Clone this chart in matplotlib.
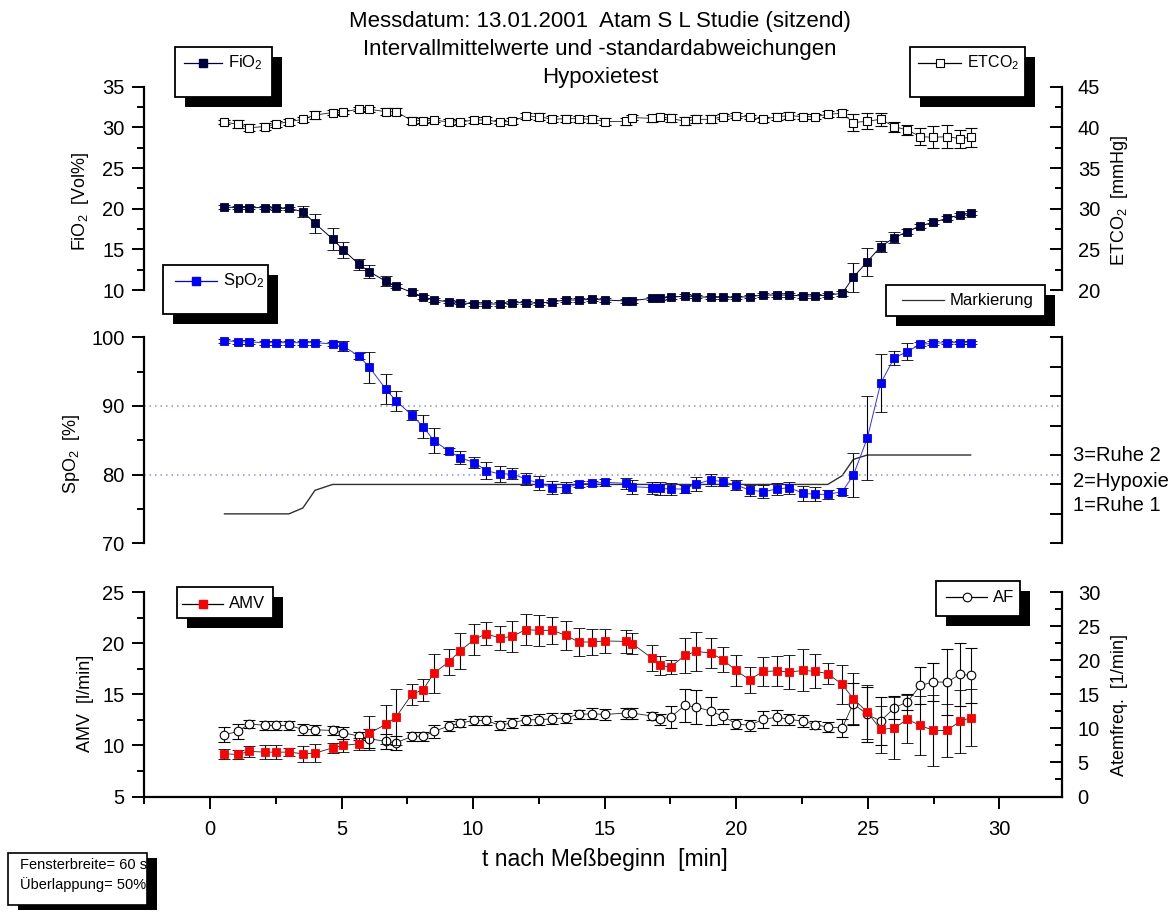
import matplotlib
matplotlib.use('Agg')
import matplotlib.pyplot as plt
from matplotlib.patches import Rectangle
from matplotlib.ticker import MultipleLocator, NullFormatter

plt.rcParams['font.family'] = ['Liberation Sans', 'DejaVu Sans']
plt.rcParams['mathtext.fontset'] = 'custom'
plt.rcParams['mathtext.rm'] = 'Liberation Sans'
plt.rcParams['mathtext.it'] = 'Liberation Sans:italic'
plt.rcParams['mathtext.bf'] = 'Liberation Sans:bold'
plt.rcParams['mathtext.default'] = 'regular'

# ---------------- data ----------------
t_min = [0.55, 1.05, 1.50, 2.09, 2.51, 3.00, 3.53, 3.99, 4.66, 5.07, 5.66, 6.06, 6.68, 7.07,
         7.67, 8.10, 8.51, 9.07, 9.50, 10.05, 10.50, 11.01, 11.49, 12.00, 12.50, 13.01, 13.53,
         14.01, 14.52, 15.03, 15.80, 16.05, 16.79, 17.09, 17.51, 18.05, 18.48, 19.03, 19.50,
         19.99, 20.51, 21.02, 21.56, 22.01, 22.55, 23.01, 23.48, 24.03, 24.45, 24.98, 25.49,
         26.01, 26.50, 27.00, 27.49, 28.01, 28.51, 28.91]

fio2 = [20.21, 20.13, 20.13, 20.13, 20.04, 20.04, 19.63, 18.20, 16.27, 14.92, 13.16, 12.25, 11.07,
        10.49, 9.71, 9.18, 8.77, 8.56, 8.44, 8.28, 8.28, 8.28, 8.44, 8.44, 8.36, 8.56, 8.77, 8.77,
        8.85, 8.77, 8.65, 8.69, 8.98, 8.98, 9.10, 9.26, 9.18, 9.10, 9.10, 9.10, 9.18, 9.38, 9.38,
        9.38, 9.26, 9.26, 9.38, 9.59, 11.56, 13.48, 15.33, 16.44, 17.17, 17.91, 18.32, 18.82,
        19.23, 19.43]
fio2_sd = [0.2, 0.2, 0.2, 0.2, 0.2, 0.2, 0.65, 1.2, 1.4, 1.0, 0.7, 0.8, 0.6, 0.3, 0.3, 0.25, 0.2,
           0.2, 0.2, 0.2, 0.2, 0.2, 0.2, 0.2, 0.2, 0.2, 0.2, 0.2, 0.2, 0.2, 0.25, 0.25, 0.2, 0.2,
           0.2, 0.2, 0.2, 0.2, 0.2, 0.2, 0.2, 0.2, 0.2, 0.2, 0.2, 0.2, 0.2, 0.3, 1.8, 1.7, 0.7,
           0.7, 0.3, 0.25, 0.25, 0.25, 0.25, 0.25]

etco2 = [40.66, 40.38, 39.97, 40.09, 40.42, 40.70, 40.99, 41.52, 41.81, 41.89, 42.26, 42.22, 41.93,
         41.93, 40.83, 40.83, 40.91, 40.66, 40.66, 40.91, 40.91, 40.66, 40.74, 41.40, 41.32, 40.99,
         41.07, 41.07, 40.99, 40.71, 40.75, 41.20, 41.11, 41.32, 41.11, 40.75, 40.99, 40.99, 41.32,
         41.44, 41.24, 40.99, 41.32, 41.44, 41.32, 41.32, 41.61, 41.73, 40.58, 40.75, 40.99, 40.09,
         39.68, 38.86, 38.78, 38.86, 38.61, 38.78]
etco2_sd = [0.3, 0.5, 0.4, 0.45, 0.4, 0.35, 0.3, 0.45, 0.35, 0.3, 0.3, 0.3, 0.45, 0.45, 0.45, 0.3,
            0.25, 0.35, 0.3, 0.35, 0.4, 0.3, 0.35, 0.4, 0.45, 0.35, 0.4, 0.35, 0.4, 0.4, 0.45, 0.35,
            0.45, 0.35, 0.5, 0.5, 0.5, 0.5, 0.3, 0.3, 0.25, 0.3, 0.45, 0.45, 0.35, 0.3, 0.35, 0.45,
            1.05, 1.0, 0.8, 0.6, 0.6, 1.0, 1.35, 1.4, 1.1, 1.2]

spo2 = [99.51, 99.37, 99.32, 99.22, 99.22, 99.22, 99.22, 99.22, 99.03, 98.69, 97.28, 95.63, 92.47,
        90.73, 88.69, 86.99, 84.95, 83.45, 82.48, 81.75, 80.58, 80.10, 80.10, 79.37, 78.74, 78.11,
        78.11, 78.64, 78.74, 78.88, 78.73, 78.25, 78.10, 78.00, 77.91, 77.91, 78.64, 79.22, 78.97,
        78.49, 77.76, 77.52, 77.91, 78.10, 77.28, 77.13, 77.13, 77.52, 79.90, 85.29, 93.30, 97.03,
        97.91, 98.98, 99.12, 99.22, 99.22, 99.22]
spo2_sd = [0.3, 0.3, 0.3, 0.3, 0.3, 0.3, 0.3, 0.3, 0.3, 0.7, 0.5, 2.26, 2.2, 1.45, 0.7, 1.65, 1.8,
           0.5, 1.0, 0.8, 1.25, 1.1, 0.8, 0.9, 1.0, 1.0, 0.8, 0.4, 0.4, 0.5, 0.85, 1.0, 0.85, 1.0,
           0.85, 0.6, 1.0, 0.9, 0.65, 0.8, 0.8, 0.9, 0.9, 0.9, 1.1, 1.0, 0.7, 0.5, 3.2, 6.1, 4.2,
           1.0, 1.2, 0.3, 0.3, 0.2, 0.2, 0.2]

markierung = [1, 1, 1, 1, 1, 1, 1.2, 1.8] + [2] * 39 + [2.3, 2.85] + [3] * 9
phase_labels = ['3=Ruhe 2', '2=Hypoxie', '1=Ruhe 1']

amv = [9.18, 9.11, 9.41, 9.34, 9.34, 9.34, 9.18, 9.24, 9.76, 9.99, 10.16, 11.20, 12.05, 12.77,
       14.99, 15.44, 17.07, 18.15, 19.23, 20.37, 20.92, 20.50, 20.66, 21.32, 21.25, 21.25, 20.76,
       20.11, 20.11, 20.21, 20.17, 19.95, 18.54, 17.82, 17.66, 18.80, 19.19, 19.03, 18.38, 17.33,
       16.42, 17.24, 17.27, 17.17, 17.33, 17.24, 17.01, 15.96, 14.56, 13.26, 11.56, 11.69, 12.54,
       11.95, 11.46, 11.46, 12.37, 12.70]
amv_sd = [0.47, 0.4, 0.57, 0.7, 0.7, 0.4, 0.8, 0.9, 0.5, 0.65, 0.57, 1.66, 1.9, 2.7, 1.0, 1.1, 1.9,
          1.3, 1.8, 1.5, 1.1, 1.2, 1.5, 1.5, 1.5, 1.3, 1.4, 1.4, 1.3, 1.2, 1.1, 1.05, 1.3, 0.93,
          0.65, 1.75, 1.9, 1.5, 1.2, 1.5, 1.26, 1.45, 1.45, 1.7, 2.05, 1.65, 1.0, 1.9, 2.5, 2.6,
          2.3, 3.0, 2.35, 2.9, 3.45, 2.6, 3.07, 2.8]

af = [9.06, 9.54, 10.67, 10.43, 10.43, 10.43, 9.84, 9.79, 9.69, 9.35, 8.86, 8.47, 8.08, 7.88, 8.81,
      8.86, 9.54, 10.33, 10.77, 11.16, 11.16, 10.43, 10.82, 11.26, 11.26, 11.41, 11.55, 12.04,
      12.14, 12.04, 12.24, 12.24, 11.80, 11.31, 11.65, 13.36, 13.12, 12.53, 11.75, 10.67, 10.43,
      11.31, 11.65, 11.31, 11.06, 10.52, 10.18, 10.08, 13.61, 12.04, 11.06, 13.02, 13.85, 16.30,
      16.79, 16.79, 17.91, 17.77]
af_sd = [1.1, 1.1, 0.55, 0.65, 0.7, 0.65, 0.75, 0.7, 0.6, 0.85, 0.6, 1.4, 1.1, 1.0, 0.7, 0.65, 0.9,
         0.75, 0.55, 0.7, 0.6, 0.65, 0.7, 0.75, 0.8, 0.8, 0.75, 0.7, 0.8, 0.85, 0.8, 0.8, 0.65,
         0.75, 1.6, 2.4, 2.45, 2.0, 1.1, 0.7, 0.75, 1.3, 1.1, 0.8, 0.85, 0.6, 0.7, 1.3, 3.06, 4.0,
         3.5, 1.7, 1.2, 2.7, 2.85, 4.8, 4.65, 4.0]

title_lines = ['Messdatum: 13.01.2001  Atam S L Studie (sitzend)',
               'Intervallmittelwerte und -standardabweichungen',
               'Hypoxietest']

# ---------------- figure ----------------
W, H = 1176, 913
fig = plt.figure(figsize=(W / 100, H / 100), dpi=100)
fig.patch.set_facecolor('white')

PXMIN = 26.31
XL = (-2.5, 32.4)
X0 = 210 + XL[0] * PXMIN
X1 = 210 + XL[1] * PXMIN


def axes_px(y0, y1):
    return fig.add_axes([X0 / W, 1 - y1 / H, (X1 - X0) / W, (y1 - y0) / H])


TICKFS = 14.5
LABFS = 13


def style_left(ax, major, minor, showx=False):
    ax.set_xlim(*XL)
    for s in ('top', 'right'):
        ax.spines[s].set_visible(False)
    ax.spines['bottom'].set_visible(showx)
    ax.spines['left'].set_linewidth(1.6)
    ax.spines['bottom'].set_linewidth(1.6)
    ax.yaxis.set_major_locator(MultipleLocator(major))
    if minor:
        ax.yaxis.set_minor_locator(MultipleLocator(minor))
    ax.tick_params(axis='y', which='major', direction='out', length=8.6, width=1.4,
                   labelsize=TICKFS, pad=5.5)
    ax.tick_params(axis='y', which='minor', direction='out', length=4.8, width=1.4)
    if showx:
        ax.xaxis.set_major_locator(MultipleLocator(5))
        ax.xaxis.set_minor_locator(MultipleLocator(2.5))
        ax.tick_params(axis='x', which='major', direction='out', length=8.6, width=1.4,
                       labelsize=TICKFS, pad=8)
        ax.tick_params(axis='x', which='minor', direction='out', length=4.8, width=1.4)
    else:
        ax.tick_params(axis='x', which='both', bottom=False, labelbottom=False)
    ax.patch.set_visible(False)


def style_right(ax, major, minor, labels=True):
    for s in ('top', 'left', 'bottom'):
        ax.spines[s].set_visible(False)
    ax.spines['right'].set_linewidth(1.6)
    ax.yaxis.set_major_locator(MultipleLocator(major))
    if minor:
        ax.yaxis.set_minor_locator(MultipleLocator(minor))
    ax.tick_params(axis='y', which='major', direction='in', length=8.6, width=1.4,
                   labelsize=TICKFS, pad=11, labelright=labels)
    ax.tick_params(axis='y', which='minor', direction='in', length=4.8, width=1.4)
    if not labels:
        ax.yaxis.set_major_formatter(NullFormatter())
    ax.patch.set_visible(False)


def eb(ax, y, e, **kw):
    c = ax.errorbar(t_min, y, yerr=e, capsize=4.5, capthick=0.8, elinewidth=0.8,
                    ecolor='black', **kw)
    for a in c.get_children():
        a.set_clip_on(False)
    return c


# --- top panel ---
top = axes_px(86.7, 290)
top.set_ylim(10, 35)
style_left(top, 5, 2.5)
topr = top.twinx()
topr.set_ylim(20, 45)
style_right(topr, 5, 2.5)
eb(top, fio2, fio2_sd, color='#000040', lw=0.7, marker='s', ms=5.5, mfc='#000040',
   mec='#000040', mew=0.6)
eb(topr, etco2, etco2_sd, color='#202020', lw=0.6, marker='s', ms=5.5, mfc='white',
   mec='black', mew=0.8)

# --- middle panel ---
mid = axes_px(337.3, 543.3)
mid.set_ylim(70, 100)
style_left(mid, 10, 5)
midr = mid.twinx()
midr.set_ylim(0, 7)
style_right(midr, 1, None, labels=False)
mid.axhline(90, color='#8a8aff', ls=(0, (1, 2.6)), lw=1.1, zorder=0)
mid.axhline(80, color='#8a8aff', ls=(0, (1, 2.6)), lw=1.1, zorder=0)
ln, = midr.plot(t_min, markierung, color='#303030', lw=1.0, clip_on=False)
mid.set_zorder(3)
midr.set_zorder(2)
eb(mid, spo2, spo2_sd, color='#3030ff', lw=0.7, marker='s', ms=5.8, mfc='#0000ff',
   mec='#0000ff', mew=0.6)

# --- bottom panel ---
bot = axes_px(592, 796.5)
bot.set_ylim(5, 25)
style_left(bot, 5, 2.5, showx=True)
botr = bot.twinx()
botr.set_ylim(0, 30)
style_right(botr, 5, 2.5)
bot.set_zorder(3)
botr.set_zorder(2)
eb(botr, af, af_sd, color='#202020', lw=0.6, marker='o', ms=6.2, mfc='white',
   mec='black', mew=0.8)
eb(bot, amv, amv_sd, color='#202020', lw=0.6, marker='s', ms=6.2, mfc='#ff0000',
   mec='#ff0000', mew=0.6)


def ftext(x, y, s, **kw):
    fig.text(x / W, 1 - y / H, s, **kw)


# titles
for yy, s in zip((21, 49, 78), title_lines):
    ftext(600, yy, s, ha='center', va='center', fontsize=16)

# axis labels
ftext(80, 201, 'FiO$_2$  [Vol%]', rotation=90, ha='center', va='center', fontsize=LABFS)
ftext(71, 454, 'SpO$_2$  [%]', rotation=90, ha='center', va='center', fontsize=LABFS)
ftext(85, 703, 'AMV  [l/min]', rotation=90, ha='center', va='center', fontsize=LABFS)
ftext(1120, 200, 'ETCO$_2$  [mmHg]', rotation=90, ha='center', va='center', fontsize=LABFS)
ftext(1119, 705, 'Atemfreq.  [1/min]', rotation=90, ha='center', va='center', fontsize=LABFS)
ftext(605, 859, 't nach Meßbeginn  [min]', ha='center', va='center', fontsize=16.5)

for yy, s in zip((455, 481, 505), phase_labels):
    ftext(1073, yy, s, ha='left', va='center', fontsize=14.5)

# ---------------- overlay: legends with shadows ----------------
ov = fig.add_axes([0, 0, 1, 1])
ov.set_xlim(0, W)
ov.set_ylim(H, 0)
ov.axis('off')
ov.set_zorder(10)


def box(x0, y0, x1, y1, dx=10, dy=10, lw=1.3):
    ov.add_patch(Rectangle((x0 + dx, y0 + dy), x1 - x0, y1 - y0, facecolor='black',
                           edgecolor='black', lw=0))
    ov.add_patch(Rectangle((x0, y0), x1 - x0, y1 - y0, facecolor='white',
                           edgecolor='black', lw=lw))


def legend(x0, y0, x1, y1, lx0, lx1, ly, text, tx, lcolor, fs=12, **mk):
    box(x0, y0, x1, y1)
    ov.plot([lx0, lx1], [ly, ly], color=lcolor, lw=0.9)
    if mk:
        ov.plot([(lx0 + lx1) / 2], [ly], **mk)
    ov.text(tx, ly, text, ha='left', va='center', fontsize=fs)


legend(175, 47, 272, 97, 184, 222, 63, 'FiO$_2$', 228, '#000040',
       marker='s', ms=5.5, mfc='#000040', mec='#000040')
legend(910, 47, 1025, 97, 918, 961, 63, 'ETCO$_2$', 967, 'black', fs=11.5,
       marker='s', ms=5.5, mfc='white', mec='black', mew=0.8)
legend(163, 265, 268, 314, 175, 217, 281, 'SpO$_2$', 223, '#0000ff',
       marker='s', ms=5.8, mfc='#0000ff', mec='#0000ff')
legend(886, 285, 1045, 316, 902, 944, 300, 'Markierung', 950, '#303030')
legend(177, 587, 273, 618, 182, 223, 604, 'AMV', 229, 'black',
       marker='s', ms=6.2, mfc='#ff0000', mec='#ff0000')
legend(936, 581, 1020, 616, 946, 987, 597, 'AF', 993, 'black',
       marker='o', ms=6.2, mfc='white', mec='black', mew=0.8)

# info box
box(8, 853, 147, 905, dx=10, dy=5, lw=1.2)
ov.text(20, 865, 'Fensterbreite= 60 s', ha='left', va='center', fontsize=10.5)
ov.text(20, 885, 'Überlappung= 50%', ha='left', va='center', fontsize=10.5)

fig.savefig('out.png', dpi=100)
